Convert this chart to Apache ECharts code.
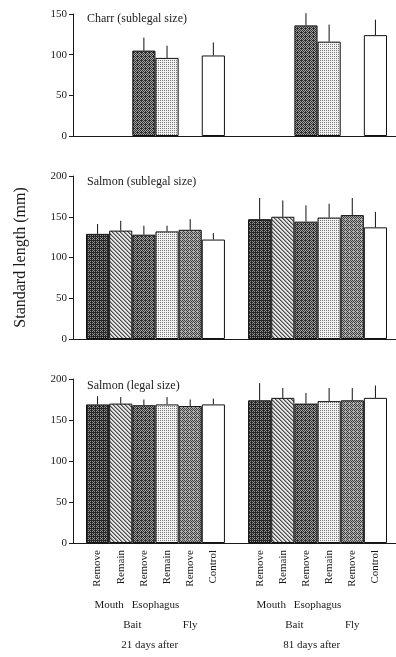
<!DOCTYPE html>
<html>
<head>
<meta charset="utf-8">
<script src="https://cdn.jsdelivr.net/npm/echarts@6/dist/echarts.min.js"></script>
<style>
  html, body { margin: 0; padding: 0; background: #fff; }
  #chart { width: 396px; height: 657px; }
</style>
</head>
<body>
<div id="chart"></div>
<script>
// ---------- data ----------
const barLabels = ['Remove', 'Remain', 'Remove', 'Remain', 'Remove', 'Control'];
const panelTitles = ['Charr (sublegal size)', 'Salmon (sublegal size)', 'Salmon (legal size)'];
const yMax = [150, 200, 200];

// Charr (sublegal size)
const charr21Mean = [null, null, 105, 96, null, 99];
const charr21Sd   = [null, null, 16, 15, null, 16];
const charr81Mean = [null, null, 136, 116, null, 124];
const charr81Sd   = [null, null, 15, 21, null, 19];

// Salmon (sublegal size)
const salSub21Mean = [129, 133, 128, 132, 134, 122];
const salSub21Sd   = [12, 12, 11, 7, 13, 8];
const salSub81Mean = [147, 150, 144, 149, 152, 137];
const salSub81Sd   = [26, 20, 20, 17, 21, 19];

// Salmon (legal size)
const salLeg21Mean = [169, 170, 168, 169, 167, 169];
const salLeg21Sd   = [10, 8, 7, 9, 8, 7];
const salLeg81Mean = [174, 177, 170, 173, 174, 177];
const salLeg81Sd   = [21, 12, 13, 16, 15, 15];

const rowLabels1 = ['Mouth', 'Esophagus'];
const rowLabels2 = ['Bait', 'Fly'];
const periodLabels = ['21 days after', '81 days after'];
const yAxisTitle = 'Standard length (mm)';

// ---------- patterns ----------
const bayer = [[0, 8, 2, 10], [12, 4, 14, 6], [3, 11, 1, 9], [15, 7, 13, 5]];
function stipple(density, dark, light) {
  const c = document.createElement('canvas');
  c.width = 4; c.height = 4;
  const ctx = c.getContext('2d');
  for (let y = 0; y < 4; y++) for (let x = 0; x < 4; x++) {
    ctx.fillStyle = bayer[y][x] < density * 16 ? dark : light;
    ctx.fillRect(x, y, 1, 1);
  }
  return { image: c, repeat: 'repeat' };
}
function hatch() {
  const c = document.createElement('canvas');
  c.width = 4; c.height = 4;
  const ctx = c.getContext('2d');
  ctx.fillStyle = '#e4e4e4';
  ctx.fillRect(0, 0, 4, 4);
  ctx.fillStyle = '#4a4a4a';
  for (let i = 0; i < 4; i++) ctx.fillRect(i, i, 1, 1);
  ctx.fillStyle = '#999';
  for (let i = 0; i < 4; i++) ctx.fillRect((i + 1) % 4, i, 1, 1);
  return { image: c, repeat: 'repeat' };
}
const fills = [
  stipple(0.65, '#262626', '#949494'),  // Remove mouth
  hatch(),                              // Remain mouth
  stipple(0.55, '#2e2e2e', '#a4a4a4'),  // Remove esophagus
  stipple(0.25, '#777', '#f2f2f2'),     // Remain esophagus
  stipple(0.42, '#404040', '#b0b0b0'),  // Remove fly
  '#ffffff'                             // Control
];

// ---------- layout ----------
const axisLeft = 73, barLeft = 86, barRight = 9;
const panels = [
  { top: 14, height: 122, d21: [charr21Mean, charr21Sd], d81: [charr81Mean, charr81Sd] },
  { top: 176, height: 163, d21: [salSub21Mean, salSub21Sd], d81: [salSub81Mean, salSub81Sd] },
  { top: 379, height: 164, d21: [salLeg21Mean, salLeg21Sd], d81: [salLeg81Mean, salLeg81Sd] }
];
const nSlots = 13;
const cats = Array.from({ length: nSlots }, (_, i) => String(i));
const slotLabel = i => (i < 6 ? barLabels[i] : i > 6 ? barLabels[i - 7] : '');
const font = 'Liberation Serif';
const ink = '#1a1a1a';

const grid = [], xAxis = [], yAxis = [], series = [], title = [];
panels.forEach((p, k) => {
  const gA = 2 * k, gB = 2 * k + 1;
  grid.push({ left: axisLeft, right: 0, top: p.top, height: p.height });
  grid.push({ left: barLeft, right: barRight, top: p.top, height: p.height });
  xAxis.push({ gridIndex: gA, type: 'value', min: 0, max: 1,
    axisLine: { show: true, onZero: false, lineStyle: { color: ink, width: 1 } },
    axisTick: { show: false }, axisLabel: { show: false }, splitLine: { show: false } });
  xAxis.push({ gridIndex: gB, type: 'category', data: cats, boundaryGap: true,
    axisLine: { show: false }, axisTick: { show: false },
    axisLabel: { show: k === 2, interval: 0, rotate: 90, margin: 7, fontSize: 11,
      fontFamily: font, color: ink, formatter: (v, i) => slotLabel(+v) } });
  yAxis.push({ gridIndex: gA, type: 'value', min: 0, max: yMax[k], interval: 50,
    axisLine: { show: true, lineStyle: { color: ink, width: 1 } },
    axisTick: { show: true, inside: false, length: 4, lineStyle: { color: ink } },
    axisLabel: { margin: 6, fontSize: 11, fontFamily: font, color: ink },
    splitLine: { show: false },
    name: k === 1 ? yAxisTitle : '', nameLocation: 'middle', nameGap: 44,
    nameTextStyle: { fontSize: 16, fontFamily: font, color: ink } });
  yAxis.push({ gridIndex: gB, type: 'value', min: 0, max: yMax[k], show: false });

  const means = p.d21[0].concat([null], p.d81[0]);
  const sds = p.d21[1].concat([null], p.d81[1]);
  const barData = means.map((m, i) => {
    const f = i < 6 ? fills[i] : i > 6 ? fills[i - 7] : '#fff';
    return m == null ? '-' : { value: m, itemStyle: { color: f } };
  });
  series.push({ type: 'bar', xAxisIndex: gB, yAxisIndex: gB, data: barData,
    barCategoryGap: '0%', barWidth: '100%',
    itemStyle: { borderColor: '#111', borderWidth: 1 }, silent: true, animation: false });
  const errData = [];
  means.forEach((m, i) => { if (m != null) errData.push([i, m, sds[i]]); });
  series.push({ type: 'custom', xAxisIndex: gB, yAxisIndex: gB, data: errData,
    encode: { x: 0, y: 1 }, silent: true, animation: false, clip: false, z: 5,
    renderItem: (params, api) => {
      const x = api.value(0), m = api.value(1), s = api.value(2);
      const a = api.coord([x, m]), b = api.coord([x, m + s]);
      return { type: 'line', shape: { x1: a[0], y1: a[1], x2: b[0], y2: b[1] },
        style: { stroke: '#111', lineWidth: 1 } };
    } });
  title.push({ text: panelTitles[k], left: 87, top: [13, 176, 380][k],
    textStyle: { fontSize: 12, fontWeight: 'normal', fontFamily: font, color: ink }, padding: 0 });
});

// hierarchical labels below bottom panel
const slotW = (396 - barLeft - barRight) / nSlots;
const sx = s => barLeft + s * slotW;
const graphic = [];
[0, 7].forEach((off, g) => {
  const items = [
    [rowLabels1[0], off + 1.0, 605], [rowLabels1[1], off + 3.0, 605],
    [rowLabels2[0], off + 2.0, 625], [rowLabels2[1], off + 4.5, 625],
    [periodLabels[g], off + 2.75, 645]
  ];
  items.forEach(([t, s, y]) => graphic.push({ type: 'text', x: sx(s), y: y,
    style: { text: t, fontSize: 11, fontFamily: font, fill: ink, align: 'center', verticalAlign: 'middle' } }));
});

const chart = echarts.init(document.getElementById('chart'), null, { renderer: 'canvas' });
chart.setOption({ animation: false, backgroundColor: '#fff', title, grid, xAxis, yAxis, series, graphic });
</script>
</body>
</html>
